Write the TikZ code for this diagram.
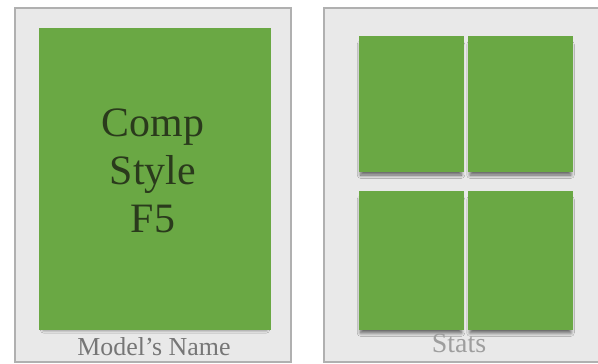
\documentclass[tikz,border=0pt]{standalone}
\usepackage{fontspec}
\setmainfont{Liberation Serif}
\usetikzlibrary{positioning, shadows.blur}
\definecolor{cardgreen}{RGB}{106,168,68}
\definecolor{inkgreen}{RGB}{42,58,28}
\definecolor{panelgray}{RGB}{233,233,233}
\definecolor{edgegray}{RGB}{176,176,176}
\definecolor{namegray}{RGB}{118,118,118}
\definecolor{statgray}{RGB}{158,158,158}
\tikzset{
  panel/.style={draw=edgegray, line width=2bp, fill=panelgray, inner sep=0pt},
  card/.style={fill=cardgreen, inner sep=0pt,
    blur shadow={shadow xshift=0pt, shadow yshift=-6pt, shadow blur radius=3.5pt,
      shadow blur steps=10, shadow opacity=60, shadow scale=0.96}},
  caption/.style={anchor=base, inner sep=0pt},
}

\begin{document}
\begin{tikzpicture}[x=1bp,y=-1bp]
    \useasboundingbox (0,0) rectangle (598,363);
    \node[panel, minimum width=276bp, minimum height=354bp] (modelbox) at (153,185) {};
    \node[panel, minimum width=320bp, minimum height=354bp] (statsbox) at (484,185) {};
    \node[card, minimum width=232bp, minimum height=302bp] (bigcard) at (155,179) {};
    \node[font=\fontsize{42}{48}\selectfont, text=inkgreen, align=center] (compname) at (153,171) {Comp\\Style\\F5};
    \foreach \x/\y/\h [count=\i] in {411/104/136, 520.5/104/136, 411/260.5/139, 520.5/260.5/139} {
        \node[card, minimum width=105bp, minimum height=\h bp] (stat\i) at (\x,\y) {};
    }
    \node[caption, font=\fontsize{26}{30}\selectfont, text=namegray] (modelname) at (154,355) {Model’s Name};
    \node[caption, font=\fontsize{28}{32}\selectfont, text=statgray] (statsname) at (459,352) {Stats};
\end{tikzpicture}
\end{document}
